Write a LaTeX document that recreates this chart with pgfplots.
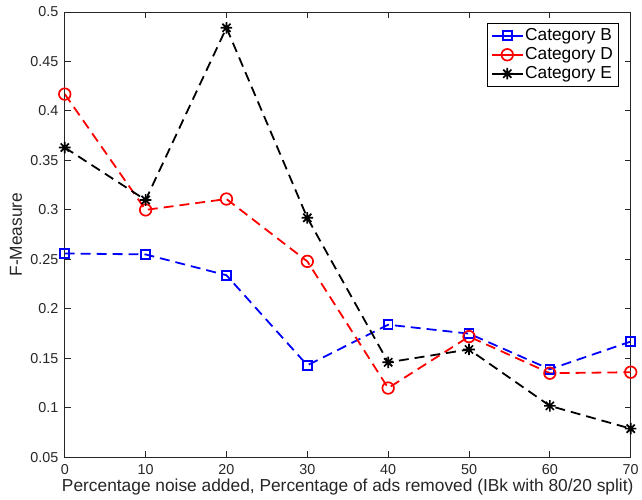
\documentclass[border=0pt]{standalone}
\usepackage{fontspec}
\setmainfont{Liberation Sans}
\usepackage{pgfplots}
\pgfplotsset{compat=1.18}
\definecolor{axgray}{gray}{0.15}
\pgfdeclareplotmark{mstar}{%
  \pgfpathmoveto{\pgfqpoint{-\pgfplotmarksize}{0pt}}\pgfpathlineto{\pgfqpoint{\pgfplotmarksize}{0pt}}%
  \pgfpathmoveto{\pgfqpoint{0pt}{-\pgfplotmarksize}}\pgfpathlineto{\pgfqpoint{0pt}{\pgfplotmarksize}}%
  \pgfpathmoveto{\pgfqpoint{-0.707\pgfplotmarksize}{-0.707\pgfplotmarksize}}\pgfpathlineto{\pgfqpoint{0.707\pgfplotmarksize}{0.707\pgfplotmarksize}}%
  \pgfpathmoveto{\pgfqpoint{-0.707\pgfplotmarksize}{0.707\pgfplotmarksize}}\pgfpathlineto{\pgfqpoint{0.707\pgfplotmarksize}{-0.707\pgfplotmarksize}}%
  \pgfusepathqstroke}
\begin{document}
\begin{tikzpicture}
\begin{axis}[
  scale only axis,
  width=568pt, height=447pt,
  xmin=0, xmax=70, ymin=0.05, ymax=0.5,
  xtick={0,10,...,70},
  ytick={0.05,0.1,0.15,0.2,0.25,0.3,0.35,0.4,0.45,0.5},
  yticklabel style={/pgf/number format/fixed,/pgf/number format/precision=2, xshift=-3pt},
  xticklabel style={yshift=-4pt},
  /pgf/number format/assume math mode=true,
  tick align=inside,
  major tick length=6pt,
  tick style={axgray, line width=0.9pt},
  axis line style={axgray, line width=0.9pt},
  ticklabel style={text=axgray, font=\fontsize{14.4}{16}\selectfont},
  xlabel={Percentage noise added, Percentage of ads removed (IBk with 80/20 split)},
  ylabel={F-Measure},
  every axis x label/.style={at={(axis description cs:0.5,0)}, anchor=base, yshift=-34pt, text=axgray, font=\fontsize{17.4}{19}\selectfont, inner sep=0pt},
  every axis y label/.style={at={([xshift=-43pt]axis description cs:0,0.5)}, rotate=90, anchor=base, text=axgray, font=\fontsize{17.4}{19}\selectfont, inner sep=0pt},
  legend style={at={(1,1)}, anchor=north east, xshift=-12pt, yshift=-11pt,
    draw=black, line width=0.9pt, font=\fontsize{17.4}{19}\selectfont,
    inner xsep=4pt, inner ysep=3pt, row sep=0pt,
    nodes={inner sep=1.5pt, text height=12.5pt, text depth=3.5pt}},
  legend cell align=left,
  legend image code/.code={\draw[#1, solid] (0pt,0pt) -- (31pt,0pt); \draw[#1, solid] plot coordinates {(15.5pt,0pt)};},
  every axis plot/.append style={line width=1.8pt, dash pattern=on 10pt off 6pt},
]
\addplot[blue, mark=square, mark size=4.5pt, mark options={solid, line width=1.7pt}]
  coordinates {(0,0.256) (10,0.255) (20,0.234) (30,0.143) (40,0.184) (50,0.175) (60,0.139) (70,0.167)};
\addlegendentry{Category B}
\addplot[red, mark=o, mark size=5.8pt, mark options={solid, line width=1.7pt}]
  coordinates {(0,0.417) (10,0.300) (20,0.311) (30,0.248) (40,0.120) (50,0.172) (60,0.135) (70,0.136)};
\addlegendentry{Category D}
\addplot[black, mark=mstar, mark size=5.8pt, mark options={solid, line width=1.7pt}]
  coordinates {(0,0.363) (10,0.310) (20,0.484) (30,0.292) (40,0.146) (50,0.159) (60,0.102) (70,0.079)};
\addlegendentry{Category E}
\end{axis}
\path ([xshift=-65pt,yshift=-42pt]current axis.south west) rectangle ([xshift=9pt,yshift=12pt]current axis.north east);
\end{tikzpicture}
\end{document}
